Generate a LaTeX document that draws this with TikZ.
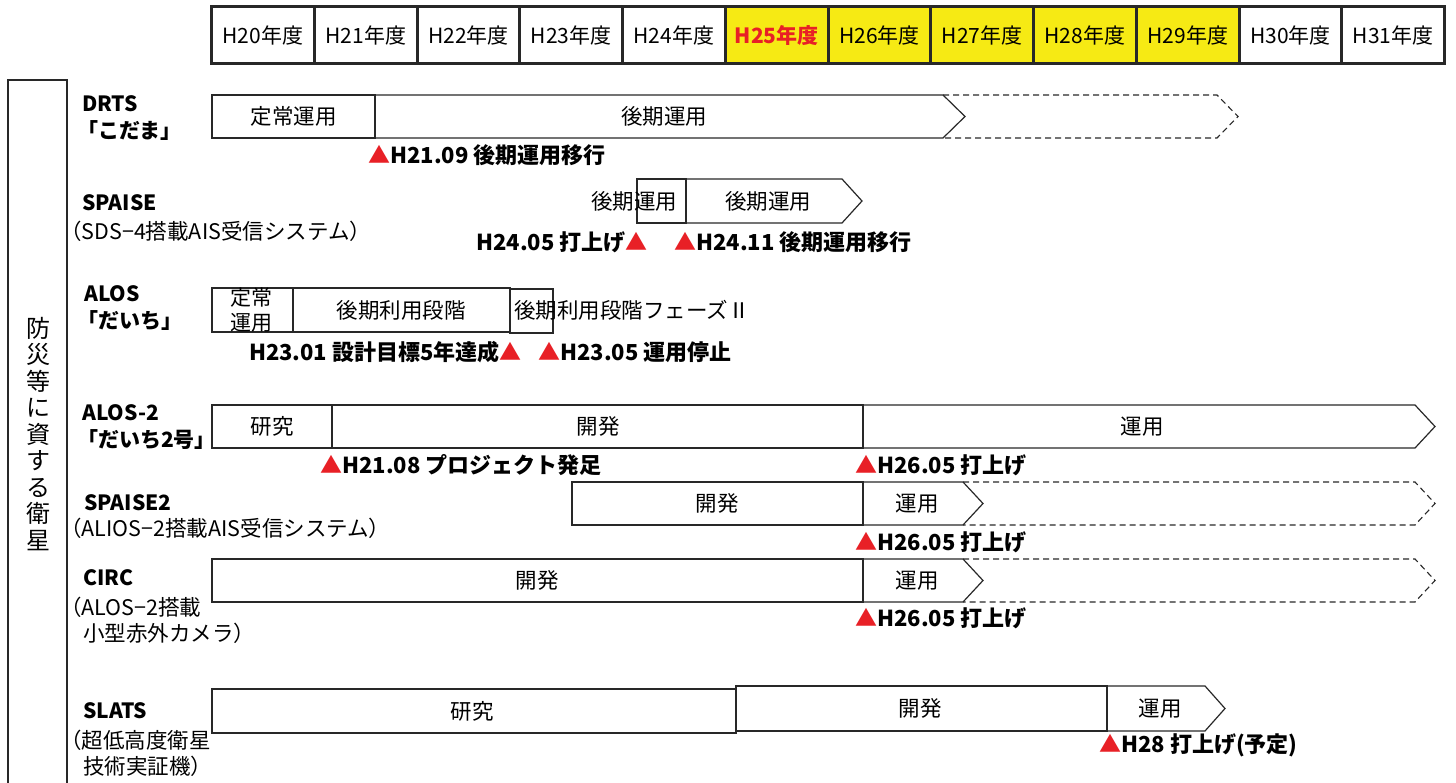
\documentclass[tikz,border=0pt]{standalone}
\usepackage{fontspec}
\setmainfont{Noto Sans CJK JP}
\usetikzlibrary{positioning}
\definecolor{lc}{RGB}{40,40,40}
\definecolor{yel}{RGB}{246,234,20}
\definecolor{mred}{RGB}{232,32,38}
\newcommand\FS[1]{\fontsize{#1}{#1}\selectfont}
\newcommand\FSB[2]{\fontsize{#1}{#2}\selectfont}
\begin{document}
\begin{tikzpicture}[x=1pt,y=-1pt,
  hcell/.style={draw=lc, line width=3.2pt, minimum width=102.75pt, minimum height=57pt, anchor=north west, inner sep=0pt, font=\FS{21}},
  bar/.style={draw=lc, line width=1.2pt},
  dbar/.style={draw=lc, line width=1.1pt, dash pattern=on 6pt off 4pt},
  bt/.style={inner sep=0pt, font=\FS{21.5}},
  ms/.style={inner sep=0pt, font=\bfseries\FS{22}},
  lb/.style={inner sep=0pt, anchor=west, font=\bfseries\FS{21}},
  ls/.style={inner sep=0pt, anchor=west, font=\FS{21.5}}
]
\useasboundingbox (0,0) rectangle (1456,783);
\fill[white] (0,0) rectangle (1456,783);

% header
\foreach \i/\yr/\f in {0/H20/white,1/H21/white,2/H22/white,3/H23/white,4/H24/white,6/H26/yel,7/H27/yel,8/H28/yel,9/H29/yel,10/H30/white,11/H31/white}
  \node[hcell, fill=\f] (h\i) at ({210+102.75*\i},5) {\yr{}年度};
\node[hcell, fill=yel, text=mred, font=\bfseries\FS{21}] (h5) at ({210+102.75*5},5) {H25年度};

% left category box
\draw[bar] (8,800) -- (8,80) -- (67,80) -- (67,800);
\node[inner sep=0pt, align=center, font={\FSB{24}{26.5}}] (cat) at (38,434)
  {防\\災\\等\\に\\資\\す\\る\\衛\\星};

% ---------------- DRTS
\node[lb] (l1a) at (82,104) {DRTS};
\node[lb] (l1b) at (77,131) {「こだま」};
\draw[dbar] (943,95) -- (1217,95) -- (1238,116.5) -- (1217,138) -- (943,138);
\draw[bar] (212,95) rectangle (375,138);
\draw[bar] (375,95) -- (943,95) -- (965,116.5) -- (943,138) -- (375,138) -- cycle;
\node[bt] (d1) at (293.5,116.5) {定常運用};
\node[bt] (d2) at (664,116.5) {後期運用};
\node[ms, anchor=west] (m1) at (368,155) {\textcolor{mred}{▲}H21.09 後期運用移行};

% ---------------- SPAISE
\node[lb] (l2a) at (82,203) {SPAISE};
\node[ls] (l2b) at (60,231) {（SDS−4搭載AIS受信システム）};
\draw[bar] (637,179) rectangle (686,223);
\draw[bar] (686,179) -- (842,179) -- (862,201) -- (842,223) -- (686,223) -- cycle;
\node[bt] (s1) at (634,201) {後期運用};
\node[bt] (s2) at (768,201) {後期運用};
\node[ms, anchor=east] (m2) at (648,242) {H24.05 打上げ\textcolor{mred}{▲}};
\node[ms, anchor=west] (m3) at (674,242) {\textcolor{mred}{▲}H24.11 後期運用移行};

% ---------------- ALOS
\node[lb] (l3a) at (84,294) {ALOS};
\node[lb] (l3b) at (77,321) {「だいち」};
\draw[bar] (212,288) rectangle (293,332);
\draw[bar] (293,288) rectangle (510,332);
\draw[bar] (510,289) rectangle (553,333);
\node[bt, align=center, font={\FSB{21}{25}}] (a1) at (251,310) {定常\\運用};
\node[bt] (a2) at (401,310) {後期利用段階};
\node[bt, anchor=west] (a3) at (514,310) {後期利用段階フェーズⅡ};
\node[ms, anchor=east] (m4) at (522,352) {H23.01 設計目標5年達成\textcolor{mred}{▲}};
\node[ms, anchor=west] (m5) at (538,352) {\textcolor{mred}{▲}H23.05 運用停止};

% ---------------- ALOS-2
\node[lb] (l4a) at (82,413) {ALOS-2};
\node[lb] (l4b) at (77,440) {「だいち2号」};
\draw[bar] (212,405) rectangle (332,448);
\draw[bar] (332,405) rectangle (863,448);
\draw[bar] (863,405) -- (1415,405) -- (1435,426.5) -- (1415,448) -- (863,448) -- cycle;
\node[bt] (b1) at (272,426.5) {研究};
\node[bt] (b2) at (598,426.5) {開発};
\node[bt] (b3) at (1142,426.5) {運用};
\node[ms, anchor=west] (m6) at (320,465) {\textcolor{mred}{▲}H21.08 プロジェクト発足};
\node[ms, anchor=west] (m7) at (855,465) {\textcolor{mred}{▲}H26.05 打上げ};

% ---------------- SPAISE2
\node[lb] (l5a) at (84,503) {SPAISE2};
\node[ls] (l5b) at (60,528) {（ALIOS−2搭載AIS受信システム）};
\draw[dbar] (963,482) -- (1415,482) -- (1435,503.5) -- (1415,525) -- (963,525);
\draw[bar] (572,482) rectangle (863,525);
\draw[bar] (863,482) -- (963,482) -- (983,503.5) -- (963,525) -- (863,525) -- cycle;
\node[bt] (c1) at (717,503.5) {開発};
\node[bt] (c2) at (917,503.5) {運用};
\node[ms, anchor=west] (m8) at (855,542) {\textcolor{mred}{▲}H26.05 打上げ};

% ---------------- CIRC
\node[lb] (l6a) at (83,578) {CIRC};
\node[ls] (l6b) at (60,607) {（ALOS−2搭載};
\node[ls] (l6c) at (83,633) {小型赤外カメラ）};
\draw[dbar] (963,559) -- (1415,559) -- (1435,580.5) -- (1415,602) -- (963,602);
\draw[bar] (212,559) rectangle (863,602);
\draw[bar] (863,559) -- (963,559) -- (983,580.5) -- (963,602) -- (863,602) -- cycle;
\node[bt] (e1) at (537,580.5) {開発};
\node[bt] (e2) at (917,580.5) {運用};
\node[ms, anchor=west] (m9) at (855,618) {\textcolor{mred}{▲}H26.05 打上げ};

% ---------------- SLATS
\node[lb] (l7a) at (83,711) {SLATS};
\node[ls] (l7b) at (60,740) {（超低高度衛星};
\node[ls] (l7c) at (83,766) {技術実証機）};
\draw[bar] (212,689) rectangle (736,733);
\draw[bar] (736,686) rectangle (1107,731);
\draw[bar] (1107,686) -- (1205,686) -- (1225,708.5) -- (1205,731) -- (1107,731) -- cycle;
\node[bt] (f1) at (472,711) {研究};
\node[bt] (f2) at (920,708.5) {開発};
\node[bt] (f3) at (1160,708.5) {運用};
\node[ms, anchor=west] (m10) at (1099,745) {\textcolor{mred}{▲}H28 打上げ(予定)};
\end{tikzpicture}
\end{document}
